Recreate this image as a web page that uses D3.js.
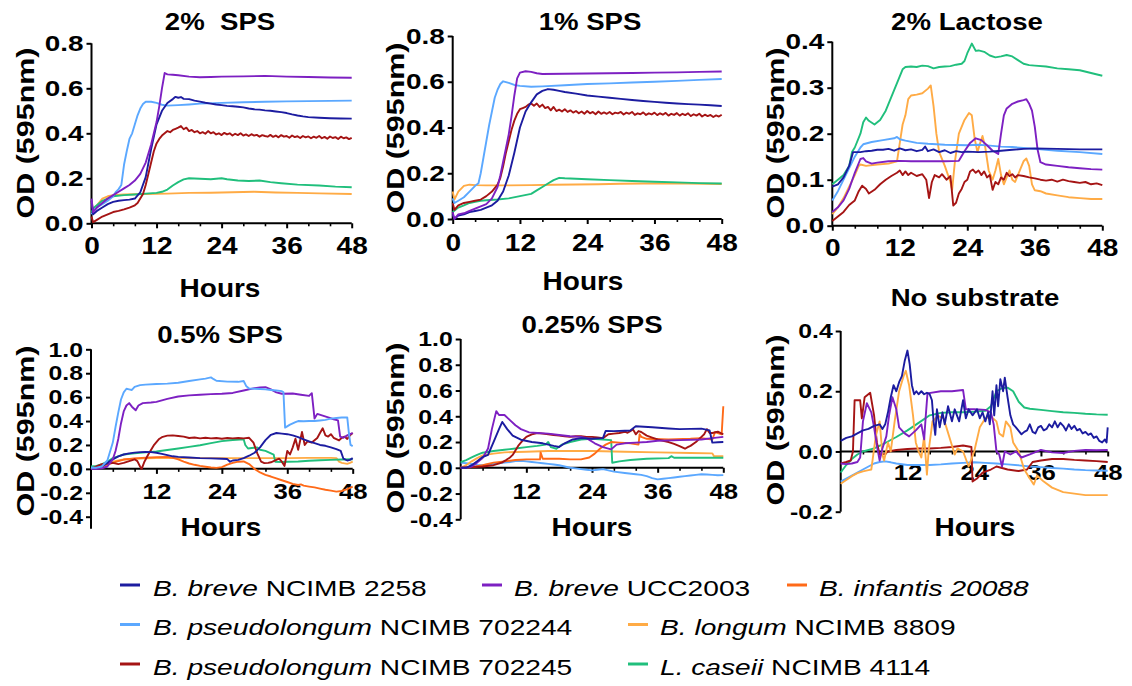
<!DOCTYPE html>
<html>
<head>
<meta charset="utf-8">
<script src="https://cdn.jsdelivr.net/npm/d3@7"></script>
<style>
  html, body { margin: 0; padding: 0; background: #fff; }
  svg { display: block; font-family: "Liberation Sans", Arial, Helvetica, sans-serif; }
</style>
</head>
<body>
<svg id="chart" width="1132" height="686"></svg>
<script>
// ---------- strains (legend order) ----------
const strainKeys   = ["breve2258", "breveUCC2003", "infantis20088", "pseudo702244", "longum8809", "pseudo702245", "caseii4114"];
const strainSpecies = ["B. breve", "B. breve", "B. infantis 20088", "B. pseudolongum", "B. longum", "B. pseudolongum", "L. caseii"];
const strainIds     = [" NCIMB 2258", " UCC2003", "", " NCIMB 702244", " NCIMB 8809", " NCIMB 702245", " NCIMB 4114"];
const strainColors  = ["#1c1ca0", "#7d20c2", "#ff6a18", "#5ba8ff", "#ffab45", "#a51414", "#20bf7c"];

// ---------- x axis ----------
const hourTicks = [0, 12, 24, 36, 48];
const hourMinorTicks = [4, 8, 16, 20, 28, 32, 40, 44];

// ---------- 2% SPS (OD595 vs hours) ----------
const sps2_breve2258 = [[0,0.10],[0.3,0.04],[1,0.055],[2,0.07],[3,0.085],[4,0.095],[5,0.10],[6,0.103],[7,0.105],[8,0.11],[9,0.138],[10,0.205],[11,0.33],[12,0.44],[13,0.5],[14,0.535],[15,0.552],[15.5,0.562],[16,0.558],[16.5,0.561],[17,0.553],[18,0.552],[19,0.545],[20,0.541],[21,0.536],[22,0.532],[23,0.528],[24,0.525],[25,0.522],[26,0.52],[27,0.518],[28,0.515],[29,0.51],[30,0.507],[31,0.505],[32,0.502],[33,0.5],[34,0.497],[35,0.494],[36,0.49],[37,0.484],[38,0.479],[39,0.475],[40,0.472],[42,0.469],[44,0.467],[46,0.466],[48,0.465]];
const sps2_breveUCC2003 = [[0,0.11],[0.3,0.05],[1,0.07],[2,0.09],[3,0.11],[4,0.125],[5,0.14],[6,0.155],[7,0.17],[8,0.19],[9,0.22],[10,0.27],[11,0.35],[12,0.45],[12.5,0.52],[13,0.6],[13.5,0.668],[14,0.662],[15,0.66],[16,0.658],[18,0.652],[20,0.649],[22,0.65],[24,0.652],[28,0.653],[32,0.655],[36,0.652],[40,0.65],[44,0.648],[48,0.647]];
const sps2_pseudo702244 = [[0,0.04],[0.5,0.06],[1,0.07],[2,0.085],[3,0.1],[4,0.12],[4.5,0.14],[5,0.152],[5.5,0.17],[6,0.26],[6.5,0.32],[7,0.375],[7.5,0.4],[8,0.44],[8.5,0.48],[9,0.51],[9.5,0.53],[10,0.54],[11,0.54],[12,0.535],[13,0.527],[14,0.523],[16,0.525],[18,0.528],[20,0.532],[24,0.535],[28,0.538],[32,0.54],[36,0.542],[40,0.543],[44,0.544],[48,0.545]];
const sps2_longum8809 = [[0,0.1],[0.3,0.06],[1,0.08],[2,0.11],[3,0.12],[4,0.125],[6,0.128],[10,0.13],[14,0.132],[18,0.135],[22,0.136],[26,0.138],[30,0.14],[34,0.137],[38,0.135],[42,0.133],[48,0.13]];
const sps2_pseudo702245 = [[0,0.03],[0.3,0.005],[1,0.015],[2,0.03],[3,0.04],[4,0.05],[5,0.055],[6,0.062],[7,0.07],[8,0.08],[8.5,0.09],[9,0.11],[9.5,0.13],[10,0.17],[10.5,0.22],[11,0.27],[11.5,0.32],[12,0.355],[12.5,0.375],[13,0.39],[13.5,0.4],[14,0.41],[14.5,0.405],[15,0.415],[15.5,0.42],[16,0.425],[16.5,0.432],[17,0.418],[17.5,0.425],[18,0.41],[18.5,0.415],[19,0.405],[19.5,0.41],[20,0.4],[20.5,0.405],[21,0.398],[21.5,0.41],[22,0.4],[22.5,0.405],[23,0.395],[23.5,0.4],[24,0.392],[24.5,0.402],[25,0.395],[25.5,0.4],[26,0.39],[26.5,0.398],[27,0.392],[27.5,0.4],[28,0.39],[28.5,0.395],[29,0.388],[29.5,0.396],[30,0.39],[30.5,0.393],[31,0.385],[31.5,0.392],[32,0.388],[32.5,0.385],[33,0.393],[33.5,0.384],[34,0.39],[34.5,0.382],[35,0.392],[35.5,0.385],[36,0.388],[36.5,0.38],[37,0.39],[37.5,0.383],[38,0.387],[38.5,0.379],[39,0.388],[39.5,0.382],[40,0.386],[40.5,0.378],[41,0.385],[41.5,0.38],[42,0.388],[42.5,0.378],[43,0.384],[43.5,0.376],[44,0.386],[44.5,0.379],[45,0.383],[45.5,0.375],[46,0.385],[46.5,0.378],[47,0.382],[47.5,0.374],[48,0.38]];
const sps2_caseii4114 = [[0,0.05],[0.5,0.07],[1,0.08],[2,0.1],[3,0.11],[4,0.12],[6,0.125],[8,0.128],[10,0.132],[12,0.135],[13,0.14],[14,0.15],[15,0.168],[16,0.183],[17,0.195],[18,0.2],[20,0.198],[22,0.196],[24,0.2],[25,0.196],[27,0.19],[29,0.188],[31,0.19],[33,0.183],[35,0.178],[38,0.172],[42,0.168],[45,0.163],[48,0.16]];

// ---------- 1% SPS ----------
const sps1_breve2258 = [[0,0.02],[0.3,0.0],[1,0.015],[2,0.02],[3,0.03],[4,0.035],[5,0.04],[6,0.05],[7,0.06],[8,0.08],[9,0.12],[10,0.19],[11,0.29],[12,0.4],[13,0.47],[14,0.51],[15,0.545],[16,0.56],[17,0.568],[18,0.565],[19,0.56],[20,0.555],[22,0.548],[24,0.54],[26,0.535],[28,0.53],[30,0.525],[32,0.52],[34,0.516],[36,0.512],[38,0.508],[40,0.505],[42,0.502],[44,0.5],[46,0.497],[48,0.494]];
const sps1_breveUCC2003 = [[0,0.03],[0.3,0.0],[1,0.02],[2,0.025],[3,0.035],[4,0.045],[5,0.055],[6,0.065],[7,0.09],[8,0.14],[8.5,0.19],[9,0.25],[9.5,0.31],[10,0.37],[10.5,0.45],[11,0.54],[11.5,0.615],[12,0.64],[13,0.646],[14,0.643],[15,0.637],[16,0.634],[20,0.635],[24,0.636],[28,0.637],[32,0.638],[36,0.64],[40,0.641],[44,0.643],[48,0.645]];
const sps1_pseudo702244 = [[0,0.09],[0.3,0.07],[1,0.08],[2,0.095],[3,0.12],[4,0.145],[4.6,0.156],[5,0.2],[5.5,0.27],[6,0.34],[6.5,0.41],[7,0.47],[7.5,0.53],[8,0.565],[8.5,0.59],[9,0.602],[10,0.595],[11,0.586],[12,0.582],[14,0.578],[16,0.58],[20,0.585],[24,0.59],[28,0.593],[32,0.597],[36,0.6],[40,0.604],[44,0.608],[48,0.612]];
const sps1_longum8809 = [[0,0.12],[0.3,0.085],[1,0.12],[2,0.145],[3,0.15],[4,0.148],[6,0.147],[10,0.147],[14,0.148],[18,0.15],[22,0.151],[26,0.152],[30,0.154],[34,0.155],[38,0.155],[42,0.155],[48,0.153]];
const sps1_pseudo702245 = [[0,0.07],[0.3,0.04],[1,0.06],[2,0.07],[3,0.075],[4,0.08],[5,0.085],[6,0.1],[7,0.12],[8,0.15],[8.5,0.18],[9,0.23],[9.5,0.29],[10,0.34],[10.5,0.39],[11,0.43],[11.5,0.46],[12,0.48],[12.5,0.485],[13,0.49],[13.5,0.5],[14,0.505],[14.5,0.495],[15,0.505],[15.5,0.49],[16,0.5],[16.5,0.485],[17,0.49],[17.5,0.475],[18,0.49],[18.5,0.472],[19,0.478],[19.5,0.47],[20,0.48],[20.5,0.468],[21,0.475],[21.5,0.465],[22,0.472],[22.5,0.462],[23,0.47],[23.5,0.46],[24,0.472],[24.5,0.462],[25,0.468],[25.5,0.458],[26,0.47],[26.5,0.46],[27,0.466],[27.5,0.46],[28,0.468],[28.5,0.458],[29,0.465],[29.5,0.462],[30,0.468],[30.5,0.457],[31,0.465],[31.5,0.46],[32,0.468],[32.5,0.455],[33,0.462],[33.5,0.458],[34,0.466],[34.5,0.455],[35,0.462],[35.5,0.457],[36,0.465],[36.5,0.454],[37,0.462],[37.5,0.456],[38,0.464],[38.5,0.452],[39,0.46],[39.5,0.455],[40,0.463],[40.5,0.452],[41,0.46],[41.5,0.454],[42,0.462],[42.5,0.45],[43,0.458],[43.5,0.452],[44,0.46],[44.5,0.448],[45,0.456],[45.5,0.45],[46,0.455],[46.5,0.446],[47,0.453],[47.5,0.448],[48,0.456]];
const sps1_caseii4114 = [[0,0.03],[0.5,0.04],[1,0.05],[2,0.06],[3,0.07],[4,0.075],[5,0.08],[6,0.082],[8,0.085],[10,0.09],[12,0.1],[14,0.11],[15,0.125],[16,0.14],[17,0.155],[18,0.17],[19,0.18],[20,0.178],[22,0.176],[24,0.174],[28,0.17],[32,0.166],[36,0.163],[40,0.16],[44,0.157],[48,0.155]];

// ---------- 2% Lactose ----------
const lac2_breve2258 = [[0,0.085],[1,0.09],[2,0.105],[3,0.13],[3.7,0.16],[5,0.16],[6,0.162],[7,0.163],[8,0.165],[9,0.165],[10,0.167],[11,0.163],[12,0.168],[13,0.164],[14,0.166],[15,0.162],[16,0.165],[16.5,0.172],[17,0.162],[18,0.166],[19,0.16],[20,0.164],[21,0.158],[22,0.162],[23,0.16],[24,0.161],[26,0.16],[28,0.161],[30,0.163],[32,0.165],[34,0.167],[36,0.168],[40,0.167],[44,0.166],[48,0.166]];
const lac2_breveUCC2003 = [[0,0.03],[1,0.04],[2,0.055],[3,0.08],[4,0.115],[5,0.145],[5.5,0.147],[6,0.14],[7,0.135],[8,0.137],[10,0.14],[12,0.141],[14,0.14],[16,0.14],[18,0.14],[20,0.14],[22.5,0.141],[23.5,0.162],[24.5,0.18],[25.5,0.19],[26.5,0.186],[27.5,0.175],[28.5,0.163],[29.5,0.156],[30,0.2],[30.5,0.24],[31,0.255],[32,0.265],[33,0.27],[34,0.273],[34.5,0.275],[35,0.265],[35.5,0.25],[36,0.215],[36.5,0.165],[37,0.138],[38,0.133],[40,0.13],[42,0.127],[44,0.125],[46,0.123],[48,0.122]];
const lac2_pseudo702244 = [[0,0.055],[1,0.075],[2,0.1],[3,0.125],[4,0.15],[5,0.17],[5.5,0.177],[7,0.182],[9,0.186],[11,0.19],[11.5,0.193],[12,0.188],[13,0.185],[15,0.18],[17,0.178],[20,0.176],[24,0.175],[26,0.176],[28,0.174],[30,0.172],[32,0.171],[34,0.169],[36,0.167],[40,0.163],[44,0.16],[48,0.156]];
const lac2_longum8809 = [[0,0.025],[1,0.04],[2,0.06],[3,0.085],[4,0.11],[4.7,0.13],[5,0.133],[6,0.13],[8,0.133],[10,0.135],[11.5,0.14],[12,0.18],[12.5,0.22],[13,0.24],[13.5,0.275],[14,0.283],[15,0.285],[16,0.288],[17,0.298],[17.5,0.305],[18,0.26],[18.5,0.2],[19,0.16],[20,0.13],[21,0.095],[21.3,0.078],[21.8,0.14],[22.5,0.2],[23.5,0.23],[24.3,0.245],[24.8,0.24],[25.3,0.19],[25.8,0.16],[26.3,0.18],[26.7,0.195],[27.2,0.17],[27.8,0.12],[28.5,0.1],[29,0.12],[29.5,0.145],[30,0.11],[30.5,0.09],[31,0.105],[31.5,0.12],[32,0.1],[32.5,0.095],[33,0.11],[33.5,0.125],[34,0.14],[34.5,0.146],[35,0.13],[35.5,0.09],[36,0.077],[37,0.075],[38,0.07],[40,0.066],[42,0.062],[44,0.06],[46,0.058],[48,0.058]];
const lac2_pseudo702245 = [[0,0.01],[1,0.02],[2,0.03],[3,0.045],[4,0.055],[4.7,0.075],[5.3,0.087],[6,0.08],[6.5,0.07],[7.5,0.078],[8.5,0.09],[9.5,0.1],[10.5,0.108],[11.5,0.115],[12,0.12],[12.5,0.11],[13,0.118],[13.5,0.11],[14,0.115],[15,0.108],[16,0.112],[16.7,0.1],[17.2,0.06],[17.7,0.095],[18.2,0.11],[19,0.105],[19.5,0.112],[20.3,0.1],[21,0.108],[21.5,0.044],[22,0.05],[22.5,0.07],[23,0.08],[23.5,0.095],[24,0.1],[24.5,0.118],[25,0.122],[25.5,0.115],[26,0.12],[26.5,0.11],[27,0.118],[27.5,0.105],[28,0.11],[28.5,0.078],[29,0.095],[29.5,0.09],[30,0.105],[30.5,0.1],[31,0.115],[31.5,0.108],[32,0.112],[32.5,0.105],[33,0.11],[34,0.108],[35,0.105],[36,0.103],[37,0.1],[38,0.098],[39,0.1],[40,0.096],[41,0.1],[42,0.097],[43,0.095],[44,0.093],[45,0.095],[46,0.09],[47,0.092],[48,0.088]];
const lac2_caseii4114 = [[0,0.09],[1,0.1],[2,0.11],[3,0.13],[3.5,0.16],[4,0.17],[5,0.2],[5.5,0.225],[6,0.235],[6.5,0.228],[7.5,0.22],[8.5,0.23],[9.5,0.25],[10.5,0.28],[11.5,0.31],[12.5,0.34],[13,0.345],[14,0.346],[15,0.345],[16,0.348],[17,0.347],[18,0.342],[19,0.345],[20,0.346],[21,0.347],[22,0.35],[23,0.352],[23.5,0.358],[24,0.375],[24.8,0.396],[25.5,0.38],[26,0.381],[27,0.378],[28,0.37],[29,0.366],[30,0.368],[31,0.371],[32,0.368],[33,0.36],[34,0.352],[35,0.349],[36,0.348],[38,0.346],[40,0.342],[42,0.34],[44,0.338],[46,0.332],[48,0.326]];

// ---------- 0.5% SPS ----------
const sps05_breve2258 = [[0,0.0],[1,0.005],[2,0.02],[3,0.05],[4,0.08],[5,0.105],[6,0.12],[7,0.13],[8,0.136],[9,0.14],[10,0.142],[11,0.14],[12,0.135],[13,0.125],[14,0.115],[15,0.105],[16,0.1],[18,0.095],[20,0.09],[22,0.088],[24,0.085],[25,0.082],[25.5,0.06],[26,0.07],[27,0.075],[28,0.09],[29,0.11],[30,0.135],[31,0.18],[32,0.24],[33,0.285],[34,0.3],[35,0.295],[36,0.29],[37,0.28],[38,0.265],[39,0.246],[40,0.23],[41,0.215],[42,0.2],[43,0.193],[44,0.18],[45,0.165],[45.8,0.15],[46.3,0.085],[47,0.07],[47.5,0.075],[48,0.09]];
const sps05_breveUCC2003 = [[0,0.0],[1,0.0],[2,0.005],[3,0.02],[4,0.08],[4.5,0.15],[5,0.25],[5.5,0.38],[6,0.48],[6.5,0.53],[7,0.55],[7.5,0.52],[8.2,0.49],[8.7,0.53],[9.5,0.55],[11,0.555],[12,0.56],[14,0.585],[16,0.605],[18,0.615],[20,0.62],[22,0.625],[24,0.628],[26,0.635],[28,0.655],[30,0.675],[31,0.68],[32,0.683],[33,0.665],[34,0.64],[35,0.628],[37,0.63],[38.5,0.62],[40,0.61],[40.5,0.633],[41,0.42],[41.5,0.46],[42.5,0.445],[43.5,0.43],[44.5,0.415],[45.3,0.405],[45.7,0.27],[46.3,0.26],[47,0.28],[47.5,0.29],[48,0.3]];
const sps05_infantis20088 = [[0,0.0],[1,0.005],[2,0.02],[3,0.035],[4,0.05],[5,0.065],[6,0.078],[8,0.088],[10,0.093],[12,0.098],[14,0.1],[15,0.093],[16,0.08],[17,0.06],[18,0.045],[19,0.034],[20,0.025],[21,0.018],[22,0.012],[23,0.008],[24,0.015],[25,0.035],[26,0.05],[27,0.06],[28,0.062],[29,0.04],[30,0.0],[31,-0.03],[32,-0.05],[33,-0.064],[34,-0.08],[35,-0.095],[36,-0.11],[37,-0.126],[38,-0.135],[38.5,-0.13],[39,-0.14],[40,-0.148],[41,-0.155],[42,-0.165],[43,-0.175],[44,-0.182],[45,-0.19],[46,-0.185],[47,-0.17],[48,-0.148]];
const sps05_pseudo702244 = [[0,0.01],[1,0.01],[2,0.02],[3,0.07],[4,0.22],[4.5,0.35],[5,0.47],[5.5,0.58],[6,0.64],[6.5,0.67],[7,0.665],[7.5,0.66],[8,0.685],[9,0.7],[10,0.705],[12,0.71],[14,0.713],[16,0.72],[18,0.735],[20,0.748],[21,0.755],[22,0.765],[22.5,0.75],[23,0.737],[25,0.73],[27,0.728],[28,0.735],[28.5,0.69],[29,0.672],[30,0.67],[31,0.668],[32,0.665],[33,0.66],[34,0.655],[35,0.65],[35.3,0.64],[35.6,0.345],[36.5,0.37],[37.5,0.39],[38,0.4],[39,0.398],[40,0.4],[41,0.4],[42,0.405],[43,0.41],[44,0.42],[45,0.425],[46,0.43],[47,0.43],[47.3,0.3],[47.6,0.2],[48,0.19]];
const sps05_longum8809 = [[0,0.0],[1,0.01],[2,0.03],[3,0.045],[4,0.06],[5,0.07],[6,0.078],[8,0.085],[10,0.088],[12,0.09],[16,0.09],[20,0.09],[24,0.09],[28,0.09],[32,0.09],[36,0.09],[40,0.092],[44,0.092],[45,0.09],[45.5,0.06],[46,0.05],[47,0.042],[47.5,0.05],[48,0.06]];
const sps05_pseudo702245 = [[0,0.0],[1,0.02],[2,0.04],[3,0.045],[4,0.05],[5,0.04],[6,0.05],[7,0.065],[8,0.08],[8.5,0.065],[9,0.02],[9.3,0.0],[9.8,0.06],[10.5,0.12],[11.5,0.196],[12.5,0.25],[13,0.265],[14,0.278],[15,0.28],[16,0.275],[17,0.27],[18,0.258],[19,0.262],[20,0.255],[21,0.26],[22,0.255],[23,0.258],[24,0.252],[25,0.258],[26,0.255],[27,0.258],[28,0.255],[29,0.26],[29.8,0.22],[30.5,0.13],[31.2,0.06],[31.8,0.048],[32.5,0.05],[33,0.055],[34,0.075],[34.5,0.085],[35,0.06],[35.5,0.025],[36,0.15],[36.5,0.12],[37,0.18],[37.5,0.252],[38,0.16],[38.7,0.308],[39.2,0.2],[39.7,0.23],[40.5,0.22],[41.5,0.258],[42,0.3],[42.5,0.34],[43,0.28],[43.5,0.27],[44,0.29],[44.5,0.26],[45.5,0.238],[46,0.26],[46.5,0.27],[47,0.25],[47.5,0.28],[48,0.3]];
const sps05_caseii4114 = [[0,0.02],[1,0.025],[2,0.04],[3,0.06],[4,0.09],[5,0.105],[6,0.12],[8,0.13],[10,0.138],[12,0.145],[14,0.158],[16,0.17],[18,0.184],[20,0.198],[22,0.215],[24,0.232],[26,0.242],[28,0.248],[28.3,0.2],[28.8,0.17],[29.5,0.175],[30.5,0.18],[31,0.16],[32,0.15],[33,0.13],[33.5,0.12],[33.8,0.06],[35,0.058],[36,0.06],[38,0.062],[40,0.068],[42,0.072],[44,0.075],[46,0.078],[48,0.08]];

// ---------- 0.25% SPS ----------
const sps025_breve2258 = [[0,0.0],[1,0.0],[2,0.02],[3,0.05],[4,0.083],[5,0.1],[6,0.2],[7,0.3],[7.6,0.356],[8.5,0.3],[9.5,0.25],[11,0.218],[13,0.2],[15,0.19],[17,0.17],[18,0.161],[19,0.19],[20.5,0.22],[22,0.23],[24,0.225],[26,0.23],[26.5,0.286],[28,0.285],[30,0.288],[31,0.29],[32,0.322],[35,0.315],[38,0.305],[40,0.3],[44,0.304],[45.5,0.29],[46,0.195],[47,0.198],[48,0.2]];
const sps025_breveUCC2003 = [[0,0.0],[1,0.0],[2,0.01],[3,0.04],[4,0.075],[5,0.15],[5.7,0.3],[6.5,0.44],[7,0.41],[8,0.41],[9,0.37],[10,0.33],[11,0.3],[12.5,0.275],[14,0.27],[16,0.265],[18,0.255],[20,0.245],[22,0.24],[23,0.23],[24.5,0.19],[26,0.16],[27.5,0.143],[28.5,0.18],[30,0.19],[32,0.195],[34,0.2],[36,0.21],[40,0.215],[44,0.22],[46,0.23],[48,0.24]];
const sps025_infantis20088 = [[0,0.0],[2,0.005],[4,0.02],[6,0.04],[8,0.05],[10,0.06],[12,0.065],[14.5,0.065],[14.6,0.12],[15,0.07],[18,0.07],[20,0.065],[22,0.065],[23.5,0.08],[24.5,0.11],[25.5,0.15],[26.5,0.18],[27.5,0.2],[29,0.195],[31,0.19],[32.5,0.18],[32.7,0.26],[33,0.24],[34,0.225],[38,0.22],[42,0.225],[44,0.23],[46,0.22],[46.5,0.278],[47,0.27],[47.7,0.26],[48,0.478]];
const sps025_pseudo702244 = [[0,0.04],[1,0.035],[2,0.03],[3,0.022],[4,0.02],[5,0.025],[6,0.03],[7,0.035],[8,0.04],[9,0.045],[10,0.052],[11,0.055],[12,0.05],[13,0.045],[14,0.04],[15,0.035],[16,0.03],[17,0.025],[18,0.02],[19,0.01],[20,0.0],[21,-0.005],[22,-0.01],[23,-0.015],[24,-0.02],[25,-0.015],[26,-0.01],[27,-0.02],[28,-0.03],[30,-0.04],[32,-0.05],[33,-0.055],[34,-0.065],[35,-0.08],[36,-0.09],[37,-0.085],[38,-0.08],[39,-0.075],[40,-0.07],[41,-0.065],[42,-0.06],[43,-0.055],[44,-0.05],[45,-0.052],[46,-0.055],[47,-0.058],[48,-0.057]];
const sps025_longum8809 = [[0,0.0],[1,0.02],[2,0.05],[3,0.075],[4,0.096],[6,0.11],[8,0.12],[12,0.125],[16,0.13],[20,0.13],[24,0.13],[30,0.125],[36,0.12],[42,0.115],[46,0.112],[46.3,0.09],[48,0.09]];
const sps025_pseudo702245 = [[0,0.0],[2,0.005],[4,0.01],[6,0.02],[7.5,0.04],[8.3,0.06],[9,0.08],[9.5,0.1],[10.5,0.17],[11.5,0.22],[12,0.24],[13,0.26],[14,0.27],[15,0.265],[16,0.26],[17,0.255],[18,0.25],[19,0.245],[20,0.24],[21,0.245],[22,0.245],[23,0.24],[24,0.24],[25,0.235],[26,0.23],[27,0.26],[28,0.265],[29,0.27],[30,0.28],[30.5,0.272],[31,0.285],[31.5,0.298],[32,0.26],[32.5,0.285],[33,0.278],[34,0.25],[35,0.235],[36,0.22],[37,0.21],[38,0.2],[39,0.185],[40,0.168],[41,0.148],[41.5,0.16],[42,0.17],[43,0.2],[44,0.24],[44.5,0.26],[45,0.3],[45.5,0.27],[46,0.27],[47,0.28],[48,0.26]];
const sps025_caseii4114 = [[0,0.044],[1,0.06],[2,0.08],[3,0.1],[4,0.117],[6,0.13],[8,0.14],[10,0.15],[12,0.16],[14,0.17],[15.5,0.18],[16,0.2],[16.5,0.16],[17.5,0.148],[18.5,0.18],[20,0.2],[22,0.22],[24,0.225],[26,0.22],[27.5,0.215],[27.7,0.039],[29,0.05],[31,0.06],[34,0.07],[38,0.075],[38.5,0.09],[39,0.078],[40,0.078],[44,0.078],[48,0.078]];

// ---------- No substrate ----------
const none_breve2258 = [[0,0.035],[1,0.045],[2,0.05],[3,0.06],[4,0.07],[5,0.075],[6,0.085],[7,0.09],[7.5,0.075],[8,0.09],[8.5,0.13],[9,0.18],[9.5,0.22],[10,0.2],[10.5,0.23],[11,0.25],[11.5,0.3],[12,0.335],[12.4,0.29],[12.8,0.22],[13.2,0.19],[13.6,0.2],[14,0.19],[14.5,0.2],[15,0.19],[15.5,0.195],[16,0.19],[16.4,0.17],[16.7,0.1],[17,0.055],[17.3,0.14],[17.8,0.08],[18.3,0.13],[18.7,0.09],[19.3,0.15],[20,0.1],[20.5,0.14],[21.3,0.1],[22,0.17],[22.5,0.11],[23,0.14],[23.7,0.12],[24.5,0.14],[25,0.11],[25.5,0.13],[26,0.1],[26.5,0.13],[26.8,0.09],[27.3,0.2],[27.6,0.12],[28,0.22],[28.3,0.15],[28.7,0.24],[29.2,0.2],[29.5,0.245],[30,0.18],[30.5,0.12],[31,0.09],[31.5,0.08],[32.5,0.057],[33,0.065],[33.5,0.07],[34,0.09],[34.5,0.065],[35,0.06],[35.5,0.08],[36,0.085],[36.5,0.07],[37,0.075],[37.5,0.09],[38,0.08],[38.5,0.1],[39,0.08],[39.5,0.095],[40,0.085],[40.5,0.07],[41,0.09],[41.5,0.075],[42,0.085],[42.5,0.07],[43,0.075],[43.5,0.06],[44,0.065],[44.5,0.055],[45,0.06],[45.5,0.045],[46,0.05],[46.5,0.035],[47,0.03],[47.5,0.04],[47.8,0.03],[48,0.08]];
const none_breveUCC2003 = [[0,-0.04],[1,-0.042],[2,-0.04],[3,-0.035],[3.5,-0.02],[4,0.1],[4.7,0.16],[5.5,0.13],[6,0.08],[6.5,0.02],[7,-0.03],[7.5,0.01],[8.2,0.05],[8.7,0.12],[9.3,0.18],[10,0.14],[10.5,0.08],[11.5,0.06],[12.3,0.05],[13.5,0.07],[14.5,0.09],[15,0.04],[15.3,0.12],[15.6,0.193],[18,0.2],[20,0.2],[22,0.204],[22.5,0.14],[24,0.14],[26,0.138],[27,0.13],[27.5,0.09],[28,0.0],[28.5,-0.01],[29,-0.05],[29.5,0.0],[30.5,-0.01],[31.5,0.0],[32.5,-0.02],[34,-0.01],[36,0.005],[38,-0.003],[40,-0.005],[42,0.002],[44,0.005],[46,0.004],[48,0.005]];
const none_pseudo702244 = [[0,-0.1],[1,-0.09],[2,-0.08],[3,-0.07],[4,-0.06],[5,-0.05],[6,-0.04],[7,-0.035],[8,-0.033],[9,-0.036],[10,-0.04],[12,-0.045],[14,-0.045],[16,-0.045],[18,-0.043],[20,-0.04],[22,-0.038],[24,-0.036],[26,-0.038],[28,-0.04],[30,-0.043],[32,-0.046],[34,-0.05],[36,-0.052],[38,-0.055],[40,-0.057],[42,-0.06],[44,-0.062],[46,-0.063],[48,-0.064]];
const none_longum8809 = [[0,-0.107],[1,-0.095],[2,-0.082],[3,-0.072],[4,-0.066],[5,-0.062],[5.5,-0.06],[6.3,0.05],[7,0.1],[7.5,-0.01],[7.8,-0.03],[8.5,0.03],[9,0.0],[9.7,0.1],[10.5,0.2],[11.3,0.25],[11.7,0.268],[12.3,0.22],[13,0.12],[13.5,0.03],[14,0.0],[14.5,-0.02],[15,0.05],[15.5,-0.077],[15.8,0.0],[16.5,0.1],[17.5,0.118],[18.5,0.11],[19,0.08],[20,0.02],[20.5,-0.01],[21,0.01],[22,0.0],[23,-0.05],[24,0.0],[25,0.08],[26,0.11],[27,0.116],[28,0.1],[28.5,0.06],[29.2,0.05],[29.7,0.1],[30.5,0.08],[31,0.03],[32,0.0],[33,-0.06],[34,-0.09],[34.7,-0.11],[35.3,-0.08],[36.5,-0.1],[38,-0.12],[40,-0.135],[42,-0.14],[44,-0.145],[48,-0.145]];
const none_pseudo702245 = [[0,-0.04],[1,-0.035],[1.8,-0.03],[2.2,0.0],[2.5,0.17],[3.5,0.17],[3.8,0.11],[4.3,0.18],[5.3,0.195],[6,0.12],[6.5,0.03],[7,-0.01],[8,-0.008],[8.5,0.0],[10,0.005],[12,0.008],[14,0.01],[16,0.01],[18,0.012],[20,0.015],[22,0.02],[23.5,0.015],[23.7,-0.1],[24.5,-0.09],[25.5,-0.07],[27,-0.06],[28,-0.05],[29,-0.055],[30,-0.06],[32,-0.065],[33.5,-0.06],[34.5,-0.035],[36,-0.03],[38,-0.025],[40,-0.025],[42,-0.028],[44,-0.03],[46,-0.032],[48,-0.035]];
const none_caseii4114 = [[0,-0.07],[1,-0.045],[2,-0.025],[3,-0.01],[4,0.0],[6,0.01],[8,0.028],[10,0.048],[12,0.07],[14,0.095],[16,0.12],[18,0.128],[20,0.13],[22,0.13],[24,0.132],[26,0.135],[27,0.15],[28,0.2],[29,0.21],[30,0.212],[31,0.2],[32,0.165],[33,0.146],[34,0.142],[36,0.138],[38,0.134],[40,0.13],[42,0.128],[44,0.125],[46,0.123],[48,0.122]];

// ---------- panel layout ----------
const panels = [
  { title: "2%  SPS", titleAt: [220, 22], x0: 91.5, x1: 351.7, yA: [0, 223.3], yB: [0.8, 43.3], axisLo: 0, axisHi: 0.8,
    yTicks: [0, 0.2, 0.4, 0.6, 0.8], zeroLabel: true, yTitleAt: [25, 133], hoursAt: [220, 288], xPad: 9, small: false,
    series: { longum8809: sps2_longum8809, caseii4114: sps2_caseii4114, pseudo702245: sps2_pseudo702245, pseudo702244: sps2_pseudo702244, breve2258: sps2_breve2258, breveUCC2003: sps2_breveUCC2003 } },
  { title: "1% SPS", titleAt: [590, 22], x0: 452.7, x1: 721.7, yA: [0, 219], yB: [0.8, 36], axisLo: 0, axisHi: 0.8,
    yTicks: [0, 0.2, 0.4, 0.6, 0.8], zeroLabel: true, yTitleAt: [395, 128], hoursAt: [583, 281], xPad: 10, small: false,
    series: { longum8809: sps1_longum8809, caseii4114: sps1_caseii4114, pseudo702245: sps1_pseudo702245, pseudo702244: sps1_pseudo702244, breve2258: sps1_breve2258, breveUCC2003: sps1_breveUCC2003 } },
  { title: "2% Lactose", titleAt: [967, 22], x0: 832.3, x1: 1102.3, yA: [0, 225.7], yB: [0.4, 41.7], axisLo: 0, axisHi: 0.4,
    yTicks: [0, 0.1, 0.2, 0.3, 0.4], zeroLabel: true, yTitleAt: [775, 133], hoursAt: null, xPad: 8, small: false,
    series: { caseii4114: lac2_caseii4114, longum8809: lac2_longum8809, pseudo702244: lac2_pseudo702244, breveUCC2003: lac2_breveUCC2003, breve2258: lac2_breve2258, pseudo702245: lac2_pseudo702245 } },
  { title: "0.5% SPS", titleAt: [220, 335], x0: 91, x1: 352.7, yA: [-0.4, 516.7], yB: [1.0, 349.3], axisLo: -0.5, axisHi: 1.0,
    yTicks: [-0.4, -0.2, 0, 0.2, 0.4, 0.6, 0.8, 1.0], zeroLabel: false, yTitleAt: [25, 431], hoursAt: [221, 527], xPad: 9, small: true,
    series: { longum8809: sps05_longum8809, caseii4114: sps05_caseii4114, infantis20088: sps05_infantis20088, pseudo702245: sps05_pseudo702245, breve2258: sps05_breve2258, breveUCC2003: sps05_breveUCC2003, pseudo702244: sps05_pseudo702244 } },
  { title: "0.25% SPS", titleAt: [592, 325], x0: 460.7, x1: 723.3, yA: [-0.4, 519.3], yB: [1.0, 339], axisLo: -0.4, axisHi: 1.0,
    yTicks: [-0.4, -0.2, 0, 0.2, 0.4, 0.6, 0.8, 1.0], zeroLabel: false, yTitleAt: [395, 428], hoursAt: [592, 527], xPad: 10, small: true,
    series: { pseudo702244: sps025_pseudo702244, longum8809: sps025_longum8809, caseii4114: sps025_caseii4114, infantis20088: sps025_infantis20088, pseudo702245: sps025_pseudo702245, breveUCC2003: sps025_breveUCC2003, breve2258: sps025_breve2258 } },
  { title: "No substrate", titleAt: [975, 298], x0: 840.7, x1: 1107.7, yA: [-0.2, 511.7], yB: [0.4, 331], axisLo: -0.2, axisHi: 0.4,
    yTicks: [-0.2, 0, 0.2, 0.4], zeroLabel: false, yTitleAt: [775, 420], hoursAt: [975, 527], xPad: 7, small: true,
    series: { pseudo702244: none_pseudo702244, caseii4114: none_caseii4114, pseudo702245: none_pseudo702245, longum8809: none_longum8809, breveUCC2003: none_breveUCC2003, breve2258: none_breve2258 } }
];

const colorOf = {};
strainKeys.forEach((k, i) => { colorOf[k] = strainColors[i]; });

const svg = d3.select("#chart");
svg.append("rect").attr("width", 1132).attr("height", 686).attr("fill", "#fff");

// Text drawn with a horizontal stretch (the figure's type is wider than Arial)
function label(g, x, y, str, o) {
  return g.append("text")
    .attr("transform", `translate(${x},${y}) rotate(${o.rot || 0}) scale(${o.sx || 1},1)`)
    .attr("text-anchor", o.anchor || "middle")
    .attr("dy", "0.36em")
    .style("font-size", o.size + "px")
    .style("font-weight", o.weight || "bold")
    .style("white-space", "pre")
    .attr("fill", "#000")
    .text(str);
}

panels.forEach(p => {
  const g = svg.append("g");
  const x = d3.scaleLinear().domain([0, 48]).range([p.x0, p.x1]);
  const y = d3.scaleLinear().domain([p.yA[0], p.yB[0]]).range([p.yA[1], p.yB[1]]);
  const zeroY = y(0);

  const yTickSize = p.small ? 21 : 22;
  const xTickSize = p.small ? 23 : 24;

  // y axis
  const yAxis = d3.axisLeft(y).tickValues(p.yTicks).tickFormat(d => d.toFixed(1)).tickSize(5).tickSizeOuter(0).tickPadding(3);
  const yg = g.append("g").attr("transform", `translate(${p.x0},0)`).call(yAxis);
  yg.select(".domain").remove();
  yg.append("line").attr("x1", 0).attr("x2", 0).attr("y1", y(p.axisLo)).attr("y2", y(p.axisHi))
    .attr("stroke", "#000").attr("stroke-width", 2);
  const ysx = p.small ? 1.18 : 1.27;
  yg.selectAll(".tick line").attr("stroke", "#000").attr("stroke-width", 2);
  yg.selectAll(".tick text")
    .attr("x", -8 / ysx)
    .attr("transform", `scale(${ysx},1)`)
    .style("font-size", yTickSize + "px").style("font-weight", "bold").attr("fill", "#000")
    .style("font-family", '"Liberation Sans", Arial, sans-serif');

  // x axis (sits at OD = 0)
  const xMajor = d3.axisBottom(x).tickValues(p.zeroLabel ? hourTicks : hourTicks.slice(1))
    .tickFormat(d3.format("d")).tickSize(5).tickSizeOuter(0).tickPadding(p.xPad);
  const xg = g.append("g").attr("transform", `translate(0,${zeroY})`).call(xMajor);
  xg.select(".domain").remove();
  xg.append("line").attr("x1", p.x0).attr("x2", p.x1).attr("y1", 0).attr("y2", 0)
    .attr("stroke", "#000").attr("stroke-width", 2);
  xg.selectAll(".tick line").attr("stroke", "#000").attr("stroke-width", 2);
  const xsx = p.small ? 1.12 : 1.17;
  xg.selectAll(".tick text")
    .attr("transform", `scale(${xsx},1)`)
    .attr("x", 0)
    .style("font-size", xTickSize + "px").style("font-weight", "bold").attr("fill", "#000")
    .style("font-family", '"Liberation Sans", Arial, sans-serif');
  const xMinor = d3.axisBottom(x).tickValues(hourMinorTicks).tickFormat("").tickSize(3).tickSizeOuter(0);
  const xm = g.append("g").attr("transform", `translate(0,${zeroY})`).call(xMinor);
  xm.select(".domain").remove();
  xm.selectAll(".tick line").attr("stroke", "#000").attr("stroke-width", 1.6);

  // growth curves
  const line = d3.line().x(d => x(d[0])).y(d => y(d[1]));
  Object.keys(p.series).forEach(k => {
    g.append("path").datum(p.series[k])
      .attr("d", line)
      .attr("fill", "none")
      .attr("stroke", colorOf[k])
      .attr("stroke-width", 1.9)
      .attr("stroke-linejoin", "round");
  });

  // titles
  label(g, p.titleAt[0], p.titleAt[1], p.title, { size: 23, sx: 1.2 });
  label(g, p.yTitleAt[0], p.yTitleAt[1], "OD (595nm)", { size: 24, sx: 1.27, rot: -90 });
  if (p.hoursAt) label(g, p.hoursAt[0], p.hoursAt[1], "Hours", { size: 25, sx: 1.12 });
});

// ---------- legend ----------
const legendRows = [
  [0, 588, 120, 153], [1, 588, 482, 514], [2, 588, 787, 819],
  [3, 627.5, 120, 153], [4, 627.5, 628, 660],
  [5, 667, 120, 153], [6, 667, 628, 660]
];
const LSX = 1.28;
legendRows.forEach(([i, yy, dx, tx]) => {
  svg.append("line").attr("x1", dx).attr("x2", dx + 20).attr("y1", yy - 3).attr("y2", yy - 3)
    .attr("stroke", strainColors[i]).attr("stroke-width", 3);
  const t = svg.append("text")
    .attr("transform", `translate(${tx},${yy}) scale(${LSX},1)`)
    .attr("dy", "0.36em")
    .style("font-size", "22px")
    .attr("fill", "#000");
  t.append("tspan").style("font-style", "italic").text(strainSpecies[i]);
  if (strainIds[i]) t.append("tspan").style("white-space", "pre").text(strainIds[i]);
});
</script>
</body>
</html>
